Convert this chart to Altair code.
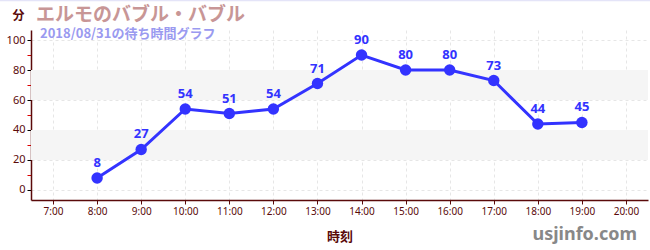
import altair as alt
import pandas as pd

hours = [8, 9, 10, 11, 12, 13, 14, 15, 16, 17, 18, 19]
waits = [8, 27, 54, 51, 54, 71, 90, 80, 80, 73, 44, 45]
band_lo = [20, 60]
band_hi = [40, 80]
x_ticks = list(range(7, 21))
y_ticks = list(range(0, 101, 10))

df = pd.DataFrame({"hour": hours, "wait": waits})
bands = pd.DataFrame({"lo": band_lo, "hi": band_hi})

DARK = "#5a0a0a"
BLUE = "#3333ff"

xscale = alt.Scale(domain=[6.5, 20.5], nice=False, zero=False)
yscale = alt.Scale(domain=[-6.7, 106.7], nice=False, zero=False)

xaxis = alt.Axis(
    values=x_ticks, labelExpr="datum.value + ':00'", title="時刻",
    titleColor=DARK, titleFontSize=13, titleFontWeight="bold", titlePadding=14,
    titleFont="Noto Sans CJK JP",
    labelColor=DARK, labelFontSize=10, labelFont="Noto Sans",
    domainColor=DARK, domainWidth=1.5, tickColor=DARK, tickSize=4,
    grid=True, gridDash=[3, 3], gridColor="#e6e6e6",
)
yaxis = alt.Axis(
    values=y_ticks,
    labelExpr="datum.value % 20 === 0 ? datum.label : ''",
    title="分", titleAngle=0, titleX=-13, titleY=-8, titleAlign="center",
    titleColor=DARK, titleFontSize=12, titleFontWeight="bold",
    titleFont="Noto Sans CJK JP",
    labelColor=DARK, labelFontSize=11, labelFont="Noto Sans", labelPadding=2,
    domainColor=DARK, domainWidth=1.5,
    tickColor={"condition": {"test": "datum.value % 20 === 0", "value": "#000000"}, "value": "#dd0000"},
    tickSize=4,
    grid=True, gridDash=[3, 3], gridColor="#e6e6e6",
    gridOpacity={"condition": {"test": "datum.value % 20 === 0", "value": 1}, "value": 0},
)

band = alt.Chart(bands).mark_rect(color="#f5f5f5").encode(
    y=alt.Y("lo:Q", scale=yscale, axis=yaxis), y2="hi:Q"
)

base = alt.Chart(df).encode(
    x=alt.X("hour:Q", scale=xscale, axis=xaxis),
    y=alt.Y("wait:Q", scale=yscale, axis=yaxis),
)
line = base.mark_line(color=BLUE, strokeWidth=3)
pts = base.mark_circle(color=BLUE, size=130, opacity=1)
labels = base.mark_text(color=BLUE, dy=-15, fontSize=13, fontWeight="bold",
                        font="Noto Sans").encode(text="wait:Q")

ann = pd.DataFrame({"t": [0]})
title1 = alt.Chart(ann).mark_text(
    text="エルモのバブル・バブル", align="left", baseline="alphabetic",
    fontSize=19, fontWeight="bold", color="#c89696", font="Noto Sans CJK JP"
).encode(x=alt.value(5), y=alt.value(-9))
title2 = alt.Chart(ann).mark_text(
    text="2018/08/31の待ち時間グラフ", align="left", baseline="alphabetic",
    fontSize=13, fontWeight="bold", color="#9a9af0", font="Noto Sans CJK JP"
).encode(x=alt.value(9), y=alt.value(8))
site = alt.Chart(ann).mark_text(
    text="usjinfo.com", align="right", baseline="alphabetic",
    fontSize=18, fontWeight="bold", color="#888888", font="Noto Sans"
).encode(x=alt.value(606), y=alt.value(210))
topline = alt.Chart(ann).mark_rule(color="#e4e4f8", strokeWidth=1.5).encode(
    x=alt.value(-31), x2=alt.value(619), y=alt.value(-29.5)
)

chart = alt.layer(band, line, pts, labels, title1, title2, site, topline).properties(
    width=617, height=170,
    autosize=alt.AutoSizeParams(type="none"),
    padding={"left": 31, "top": 30, "right": 2, "bottom": 50},
).configure_view(strokeWidth=0)

chart.save("out.html", embed_options={"renderer": "svg", "actions": False})
